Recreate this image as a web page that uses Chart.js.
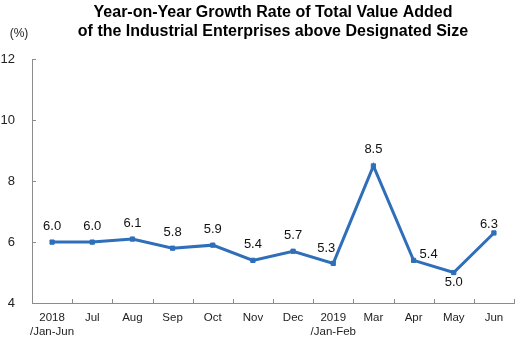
<!DOCTYPE html>
<html>
<head>
<meta charset="utf-8">
<script src="https://cdn.jsdelivr.net/npm/chart.js@4/dist/chart.umd.min.js"></script>
<style>
  html, body { margin: 0; padding: 0; background: #fff; }
  #wrap { width: 522px; height: 340px; }
</style>
</head>
<body>
<div id="wrap"><canvas id="growthChart"></canvas></div>
<script>
const months = [['2018', '/Jan-Jun'], 'Jul', 'Aug', 'Sep', 'Oct', 'Nov', 'Dec',
    ['2019', '/Jan-Feb'], 'Mar', 'Apr', 'May', 'Jun'];
const growth = [6.0, 6.0, 6.1, 5.8, 5.9, 5.4, 5.7, 5.3, 8.5, 5.4, 5.0, 6.3];
const yTicks = [4, 6, 8, 10, 12];

const FONT = '"Liberation Sans", Arial, sans-serif';
const LINE = '#2f6fba';
const AXIS = '#8c8c8c';

// where each value label sits relative to its point: [dx, dy]
const labelShift = [[0, -16], [0, -16], [0, -16], [0, -16], [0, -16], [0, -16],
    [0, -16], [-7, -15], [0, -17], [15, -6], [0, 10], [-5, -9]];

// inward tick marks on both axes, plus the (%) unit
const axisExtras = {
    id: 'axisExtras',
    afterDraw(chart) {
        const ctx = chart.ctx;
        const x = chart.scales.x, y = chart.scales.y;
        const area = chart.chartArea;
        ctx.save();
        ctx.strokeStyle = AXIS;
        ctx.lineWidth = 1;
        ctx.beginPath();
        yTicks.forEach(v => {
            const py = Math.round(y.getPixelForValue(v)) + 0.5;
            ctx.moveTo(area.left, py);
            ctx.lineTo(area.left + 4, py);
        });
        for (let i = 0; i <= months.length; i++) {
            const px = Math.round(x.getPixelForValue(i - 0.5)) + 0.5;
            ctx.moveTo(px, area.bottom);
            ctx.lineTo(px, area.bottom - 4);
        }
        ctx.stroke();

        ctx.fillStyle = '#222';
        ctx.font = '12px ' + FONT;
        ctx.textAlign = 'center';
        ctx.textBaseline = 'middle';
        ctx.fillText('(%)', 19, 34);
        ctx.restore();
    }
};

// value labels next to each point
const valueLabels = {
    id: 'valueLabels',
    afterDatasetsDraw(chart) {
        const ctx = chart.ctx;
        const meta = chart.getDatasetMeta(0);
        ctx.save();
        ctx.fillStyle = '#111';
        ctx.font = '13px ' + FONT;
        ctx.textAlign = 'center';
        ctx.textBaseline = 'middle';
        meta.data.forEach((pt, i) => {
            const s = labelShift[i];
            ctx.fillText(growth[i].toFixed(1), pt.x + s[0], pt.y + s[1]);
        });
        ctx.restore();
    }
};

new Chart(document.getElementById('growthChart'), {
    type: 'line',
    data: {
        labels: months,
        datasets: [{
            data: growth,
            borderColor: LINE,
            backgroundColor: LINE,
            borderWidth: 3,
            pointStyle: 'rect',
            pointRadius: 3,
            pointBorderWidth: 1,
            tension: 0,
            fill: false
        }]
    },
    options: {
        responsive: true,
        maintainAspectRatio: false,
        animation: false,
        devicePixelRatio: 1,
        layout: { padding: { left: 0, right: 8, top: 0, bottom: 0 } },
        plugins: {
            legend: { display: false },
            tooltip: { enabled: false },
            title: {
                display: true,
                fullSize: false,
                text: ['Year-on-Year Growth Rate of Total Value Added',
                       'of the Industrial Enterprises above Designated Size'],
                font: { family: FONT, size: 16, weight: 'bold' },
                color: '#000',
                lineHeight: 1.15,
                padding: { top: 3, bottom: 18 }
            }
        },
        scales: {
            x: {
                offset: true,
                grid: { display: false, drawTicks: false },
                border: { display: true, color: AXIS, width: 1 },
                ticks: {
                    color: '#222',
                    font: { family: FONT, size: 11.5 },
                    padding: 8,
                    maxRotation: 0,
                    autoSkip: false
                },
                afterFit(scale) { scale.height = 37; }
            },
            y: {
                min: 4,
                max: 12,
                grid: { display: false, drawTicks: false },
                border: { display: true, color: AXIS, width: 1 },
                ticks: {
                    stepSize: 2,
                    color: '#222',
                    font: { family: FONT, size: 13 },
                    padding: 17
                },
                afterFit(scale) { scale.width = 32; }
            }
        }
    },
    plugins: [axisExtras, valueLabels]
});
</script>
</body>
</html>
